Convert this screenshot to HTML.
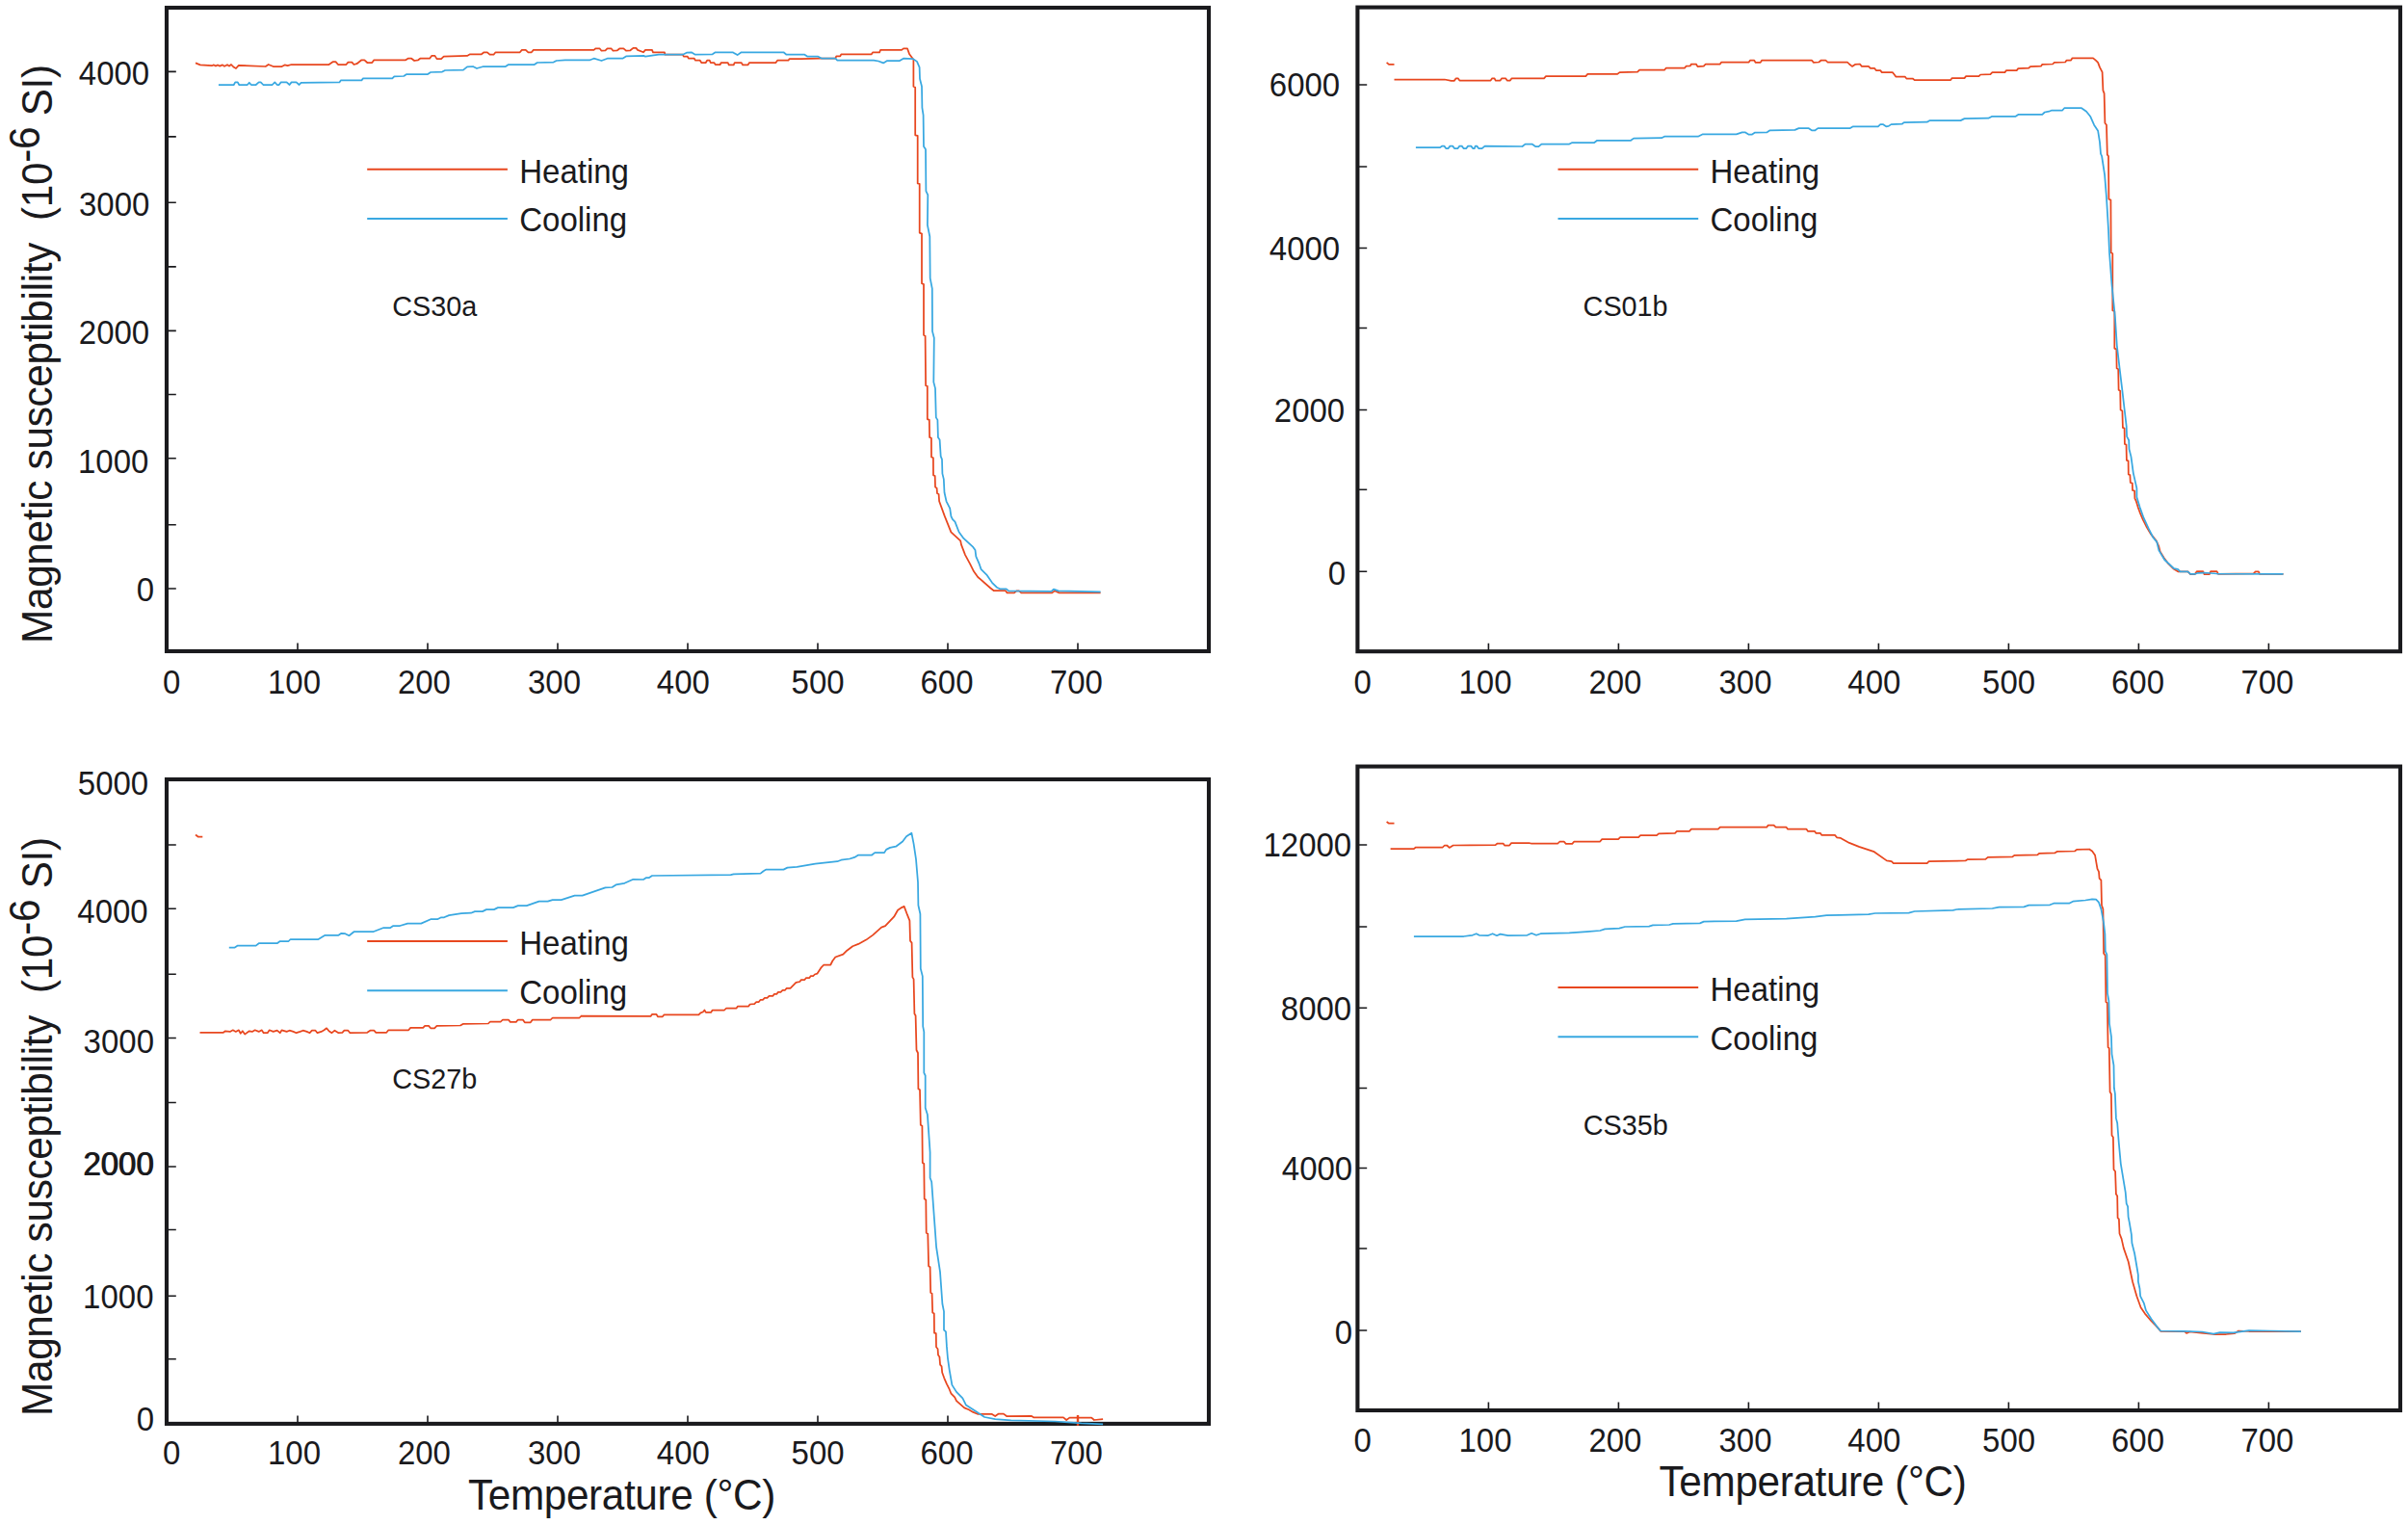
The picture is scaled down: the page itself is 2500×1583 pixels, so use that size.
<!DOCTYPE html>
<html lang="en"><head><meta charset="utf-8"><title>Magnetic susceptibility vs temperature</title>
<style>html,body{margin:0;padding:0;background:#fff;overflow:hidden}svg{display:block}</style></head>
<body>
<svg width="2500" height="1583" viewBox="0 0 2500 1583" font-family='"Liberation Sans", sans-serif' fill="#1a1a1d">
<rect width="2500" height="1583" fill="#ffffff"/>
<g id="TL">
<rect x="173" y="8" width="1082.0" height="668.0" fill="none" stroke="#1a1a1d" stroke-width="4.1"/>
<path d="M173 74.4h9.8 M173 141.9h9.8 M173 210.25h9.8 M173 276.9h9.8 M173 343.4h9.8 M173 409.5h9.8 M173 475.75h9.8 M173 544.75h9.8 M173 611h9.8 M309.00 676v-8.4 M444.00 676v-8.4 M579.00 676v-8.4 M714.00 676v-8.4 M849.00 676v-8.4 M984.00 676v-8.4 M1119.00 676v-8.4" stroke="#1a1a1d" stroke-width="1.6" fill="none"/>
<text transform="translate(155.2 88.2) scale(1 1.05)" font-size="33" text-anchor="end">4000</text>
<text transform="translate(155.4 224.2) scale(1 1.05)" font-size="33" text-anchor="end">3000</text>
<text transform="translate(155.2 356.8) scale(1 1.05)" font-size="33" text-anchor="end">2000</text>
<text transform="translate(154.4 490.6) scale(1 1.05)" font-size="33" text-anchor="end">1000</text>
<text transform="translate(160.2 623.6) scale(1 1.05)" font-size="33" text-anchor="end">0</text>
<text transform="translate(178.2 719.6) scale(1 1.05)" font-size="33" text-anchor="middle">0</text>
<text transform="translate(305.45 719.6) scale(1 1.05)" font-size="33" text-anchor="middle">100</text>
<text transform="translate(440.4 719.6) scale(1 1.05)" font-size="33" text-anchor="middle">200</text>
<text transform="translate(575.5 719.6) scale(1 1.05)" font-size="33" text-anchor="middle">300</text>
<text transform="translate(709.35 719.6) scale(1 1.05)" font-size="33" text-anchor="middle">400</text>
<text transform="translate(849.1 719.6) scale(1 1.05)" font-size="33" text-anchor="middle">500</text>
<text transform="translate(982.95 719.6) scale(1 1.05)" font-size="33" text-anchor="middle">600</text>
<text transform="translate(1117.4 719.6) scale(1 1.05)" font-size="33" text-anchor="middle">700</text>
</g>
<g id="TR">
<rect x="1409.4" y="7.6" width="1082.6" height="668.6" fill="none" stroke="#1a1a1d" stroke-width="4.1"/>
<path d="M1409.4 88h9.8 M1409.4 173h9.8 M1409.4 257.5h9.8 M1409.4 340.5h9.8 M1409.4 425.5h9.8 M1409.4 508.25h9.8 M1409.4 593.25h9.8 M1545.40 676.2v-8.4 M1680.40 676.2v-8.4 M1815.40 676.2v-8.4 M1950.40 676.2v-8.4 M2085.40 676.2v-8.4 M2220.40 676.2v-8.4 M2355.40 676.2v-8.4" stroke="#1a1a1d" stroke-width="1.6" fill="none"/>
<text transform="translate(1391.2 99.6) scale(1 1.05)" font-size="33" text-anchor="end">6000</text>
<text transform="translate(1391.2 269.8) scale(1 1.05)" font-size="33" text-anchor="end">4000</text>
<text transform="translate(1396.2 437.8) scale(1 1.05)" font-size="33" text-anchor="end">2000</text>
<text transform="translate(1397 607.2) scale(1 1.05)" font-size="33" text-anchor="end">0</text>
<text transform="translate(1414.7 719.6) scale(1 1.05)" font-size="33" text-anchor="middle">0</text>
<text transform="translate(1541.95 719.6) scale(1 1.05)" font-size="33" text-anchor="middle">100</text>
<text transform="translate(1676.9 719.6) scale(1 1.05)" font-size="33" text-anchor="middle">200</text>
<text transform="translate(1812.0 719.6) scale(1 1.05)" font-size="33" text-anchor="middle">300</text>
<text transform="translate(1945.85 719.6) scale(1 1.05)" font-size="33" text-anchor="middle">400</text>
<text transform="translate(2085.6 719.6) scale(1 1.05)" font-size="33" text-anchor="middle">500</text>
<text transform="translate(2219.45 719.6) scale(1 1.05)" font-size="33" text-anchor="middle">600</text>
<text transform="translate(2353.9 719.6) scale(1 1.05)" font-size="33" text-anchor="middle">700</text>
</g>
<g id="BL">
<rect x="173" y="809" width="1082.0" height="668.9" fill="none" stroke="#1a1a1d" stroke-width="4.1"/>
<path d="M173 877h9.8 M173 943.25h9.8 M173 1011.25h9.8 M173 1077.5h9.8 M173 1144.5h9.8 M173 1211h9.8 M173 1276.5h9.8 M173 1345.25h9.8 M173 1410.75h9.8 M309.00 1477.9v-8.4 M444.00 1477.9v-8.4 M579.00 1477.9v-8.4 M714.00 1477.9v-8.4 M849.00 1477.9v-8.4 M984.00 1477.9v-8.4 M1119.00 1477.9v-8.4" stroke="#1a1a1d" stroke-width="1.6" fill="none"/>
<text transform="translate(154.2 824.6) scale(1 1.05)" font-size="33" text-anchor="end">5000</text>
<text transform="translate(153.7 958.2) scale(1 1.05)" font-size="33" text-anchor="end">4000</text>
<text transform="translate(160 1093) scale(1 1.05)" font-size="33" text-anchor="end">3000</text>
<text transform="translate(159.3 1220.2) scale(1 1.05)" font-size="33" text-anchor="end">2000</text>
<text transform="translate(160.3 1220.2) scale(1 1.05)" font-size="33" text-anchor="end">2000</text>
<text transform="translate(159.5 1357.8) scale(1 1.05)" font-size="33" text-anchor="end">1000</text>
<text transform="translate(160.2 1485) scale(1 1.05)" font-size="33" text-anchor="end">0</text>
<text transform="translate(178.2 1520.4) scale(1 1.05)" font-size="33" text-anchor="middle">0</text>
<text transform="translate(305.45 1520.4) scale(1 1.05)" font-size="33" text-anchor="middle">100</text>
<text transform="translate(440.4 1520.4) scale(1 1.05)" font-size="33" text-anchor="middle">200</text>
<text transform="translate(575.5 1520.4) scale(1 1.05)" font-size="33" text-anchor="middle">300</text>
<text transform="translate(709.35 1520.4) scale(1 1.05)" font-size="33" text-anchor="middle">400</text>
<text transform="translate(849.1 1520.4) scale(1 1.05)" font-size="33" text-anchor="middle">500</text>
<text transform="translate(982.95 1520.4) scale(1 1.05)" font-size="33" text-anchor="middle">600</text>
<text transform="translate(1117.4 1520.4) scale(1 1.05)" font-size="33" text-anchor="middle">700</text>
</g>
<g id="BR">
<rect x="1409.4" y="795.6" width="1082.6" height="668.4" fill="none" stroke="#1a1a1d" stroke-width="4.1"/>
<path d="M1409.4 877h9.8 M1409.4 962h9.8 M1409.4 1046.25h9.8 M1409.4 1129.5h9.8 M1409.4 1212.5h9.8 M1409.4 1296h9.8 M1409.4 1381h9.8 M1545.40 1464v-8.4 M1680.40 1464v-8.4 M1815.40 1464v-8.4 M1950.40 1464v-8.4 M2085.40 1464v-8.4 M2220.40 1464v-8.4 M2355.40 1464v-8.4" stroke="#1a1a1d" stroke-width="1.6" fill="none"/>
<text transform="translate(1403.2 888.8) scale(1 1.05)" font-size="33" text-anchor="end">12000</text>
<text transform="translate(1403.2 1058.8) scale(1 1.05)" font-size="33" text-anchor="end">8000</text>
<text transform="translate(1404.2 1225.2) scale(1 1.05)" font-size="33" text-anchor="end">4000</text>
<text transform="translate(1404.2 1395.2) scale(1 1.05)" font-size="33" text-anchor="end">0</text>
<text transform="translate(1414.7 1506.8) scale(1 1.05)" font-size="33" text-anchor="middle">0</text>
<text transform="translate(1541.95 1506.8) scale(1 1.05)" font-size="33" text-anchor="middle">100</text>
<text transform="translate(1676.9 1506.8) scale(1 1.05)" font-size="33" text-anchor="middle">200</text>
<text transform="translate(1812.0 1506.8) scale(1 1.05)" font-size="33" text-anchor="middle">300</text>
<text transform="translate(1945.85 1506.8) scale(1 1.05)" font-size="33" text-anchor="middle">400</text>
<text transform="translate(2085.6 1506.8) scale(1 1.05)" font-size="33" text-anchor="middle">500</text>
<text transform="translate(2219.45 1506.8) scale(1 1.05)" font-size="33" text-anchor="middle">600</text>
<text transform="translate(2353.9 1506.8) scale(1 1.05)" font-size="33" text-anchor="middle">700</text>
</g>
<g id="curves">
<polyline points="203.0,65.4 207.9,67.4 219.9,68.2 222.0,67.4 224.0,68.6 226.0,67.4 228.0,68.6 231.0,67.4 233.0,68.8 236.0,67.2 238.0,68.6 240.0,67.0 242.8,69.8 245.0,71.0 247.8,67.8 275.7,69.0 278.7,67.0 283.7,69.0 292.6,69.0 295.6,67.4 298.6,68.2 302.6,67.0 341.5,67.0 345.5,64.2 348.5,64.2 351.0,67.0 359.4,67.0 361.4,64.6 365.4,64.6 367.4,67.0 370.4,66.2 375.4,62.3 378.4,62.3 381.3,65.0 386.3,65.0 388.3,62.3 421.2,62.3 423.6,60.7 427.2,60.7 430.2,63.0 434.2,62.3 436.2,60.7 446.1,60.7 448.1,57.9 451.5,57.9 453.5,61.1 458.1,61.1 460.7,58.7 485.0,57.9 488.0,56.3 499.9,56.3 502.5,54.3 505.9,54.3 508.5,56.7 512.5,56.7 514.5,54.3 539.8,54.3 541.8,51.9 545.8,51.9 548.4,54.3 551.8,54.3 553.8,51.9 616.5,51.9 618.5,50.3 622.5,50.3 624.5,52.7 628.5,52.3 630.5,50.3 634.5,50.3 636.5,52.7 640.9,52.3 643.5,50.3 647.4,50.3 650.0,52.7 654.4,52.3 657.4,49.9 660.4,49.9 662.0,51.9 668.0,54.3 670.0,51.9 677.0,51.9 678.0,54.3 690.0,54.3 690.3,56.7 708.8,56.7 709.8,58.7 713.8,58.7 714.8,60.7 720.8,60.7 721.8,62.7 726.8,62.7 728.2,65.0 732.8,65.0 734.1,62.7 736.7,62.7 737.7,65.0 741.3,65.0 742.7,67.0 747.7,67.0 748.7,65.0 755.7,65.0 756.7,67.4 761.7,67.4 762.7,65.0 769.6,65.0 771.2,67.4 776.6,67.4 778.0,65.0 805.5,65.0 807.1,62.7 818.5,62.7 819.5,61.1 831.4,61.1 851.3,60.7 867.3,60.7 868.3,58.3 872.3,58.3 873.3,56.3 904.8,56.3 906.2,54.3 913.1,54.3 914.1,51.9 936.1,51.9 938.0,50.3 942.0,50.3 944.0,55.9 947.0,59.9 948.4,61.9 948.4,89.8 950.2,90.8 950.2,140.3 952.7,140.9 952.7,190.5 954.7,190.9 954.7,241.6 957.0,242.6 957.0,294.3 959.0,295.1 959.0,347.8 960.6,348.8 961.1,400.2 962.8,400.8 962.8,435.1 964.8,435.9 965.1,453.9 966.9,454.8 967.0,474.4 968.9,475.2 969.0,493.3 970.7,494.1 971.0,505.6 972.6,506.7 973.0,512.1 974.6,513.0 975.1,520.3 980.8,535.9 987.4,552.3 997.2,561.3 998.0,565.4 1002.1,576.1 1007.0,585.1 1011.1,593.3 1015.2,599.0 1028.4,610.5 1031.6,613.0 1043.9,613.0 1045.6,615.4 1053.0,615.4 1055.4,613.3 1057.9,613.3 1060.3,615.4 1092.3,615.4 1094.8,613.3 1099.7,615.4 1142.6,615.4" fill="none" stroke="#e8471f" stroke-width="1.75" stroke-linejoin="round" stroke-linecap="butt"/>
<polyline points="226.9,88.0 242.8,88.0 244.2,85.4 246.8,85.4 248.2,88.0 256.8,88.0 258.8,85.8 260.8,88.0 265.7,88.0 268.7,85.4 270.7,85.4 273.3,88.0 282.7,88.0 285.3,85.4 287.7,88.0 289.7,88.0 291.7,85.4 297.6,85.4 300.6,88.0 302.6,85.4 307.6,85.4 310.6,88.0 312.6,85.8 352.4,85.4 353.8,83.4 375.4,83.4 377.0,81.4 407.3,81.4 409.3,79.4 419.2,79.0 422.2,77.0 444.1,77.0 447.1,75.0 459.1,74.6 462.1,73.0 481.0,72.6 485.0,69.4 491.0,69.0 495.0,71.0 501.9,69.0 524.9,69.0 527.9,67.0 554.8,67.0 557.8,65.0 574.7,64.6 577.7,63.0 586.7,62.3 612.6,62.3 616.6,60.7 624.5,63.0 630.5,60.7 646.4,60.7 650.4,58.3 668.4,57.9 670.0,58.7 683.9,56.7 708.8,56.7 712.8,54.7 717.8,54.3 721.8,56.7 739.7,56.3 742.7,54.3 760.7,54.3 765.6,57.1 769.6,54.3 813.5,54.3 816.5,56.7 835.4,56.7 838.4,58.7 849.4,58.7 853.3,60.7 867.3,60.7 869.3,62.7 907.2,62.7 912.1,63.5 917.1,65.4 921.1,63.1 934.1,63.1 938.0,60.7 948.0,61.1 952.0,63.9 954.6,69.8 955.0,81.8 957.0,89.8 957.4,111.8 958.6,119.7 959.0,152.1 961.0,155.1 961.4,198.3 963.3,202.3 962.9,233.7 965.3,245.5 965.7,288.8 967.8,299.6 968.0,343.9 969.8,350.7 969.3,396.6 971.0,403.1 971.8,433.4 973.4,435.9 973.9,453.9 975.6,456.4 976.7,473.6 978.0,476.9 978.4,491.6 979.8,497.4 980.5,511.3 982.5,520.3 986.2,527.7 987.4,535.9 989.0,539.2 991.5,541.6 995.6,552.3 1000.5,558.9 1010.3,567.9 1012.5,571.1 1013.3,577.7 1016.9,585.9 1018.5,590.8 1024.3,596.6 1030.0,604.8 1034.9,609.7 1038.2,611.3 1044.8,611.3 1047.2,613.3 1091.5,613.8 1093.9,611.6 1098.9,613.3 1142.6,614.3" fill="none" stroke="#39a8e1" stroke-width="1.75" stroke-linejoin="round" stroke-linecap="butt"/>
<polyline points="1439.6,64.9 1442.0,66.9 1447.5,66.9" fill="none" stroke="#e8471f" stroke-width="1.75" stroke-linejoin="round" stroke-linecap="butt"/>
<polyline points="1447.5,82.5 1499.8,82.5 1506.7,83.9 1509.7,83.9 1511.7,81.3 1513.7,81.3 1515.3,83.5 1547.6,83.5 1549.2,81.3 1551.6,81.3 1552.6,83.5 1557.6,83.5 1559.2,81.3 1563.1,81.3 1564.7,83.5 1567.9,83.5 1569.5,81.3 1603.0,81.3 1605.0,79.1 1646.3,79.1 1648.3,76.9 1679.2,76.9 1681.5,75.1 1700.1,74.7 1702.1,72.7 1728.0,72.7 1729.6,70.7 1748.9,70.7 1750.5,68.7 1754.9,68.3 1755.9,66.5 1760.9,66.5 1762.5,69.1 1768.8,68.7 1770.8,66.5 1785.8,66.5 1787.2,64.5 1815.7,64.5 1817.1,62.5 1821.1,62.5 1822.7,64.9 1827.7,64.9 1829.2,62.5 1880.9,62.5 1882.9,64.9 1888.4,64.5 1890.8,62.5 1895.4,62.5 1897.4,64.5 1917.9,64.5 1919.9,66.5 1922.9,68.9 1925.9,66.9 1930.9,66.5 1932.9,68.9 1939.9,68.9 1941.9,70.9 1946.2,70.9 1947.8,73.1 1952.2,73.1 1953.8,75.1 1964.8,75.1 1966.8,77.5 1968.2,79.5 1977.7,79.5 1979.3,81.5 1985.7,81.5 1987.7,83.1 2025.2,83.1 2026.6,81.1 2039.5,81.1 2041.1,79.1 2054.5,79.1 2056.1,77.5 2066.4,77.1 2068.4,75.1 2081.4,75.1 2083.0,73.1 2093.7,73.1 2095.3,71.1 2106.3,70.7 2107.9,69.1 2118.9,68.7 2120.3,66.9 2131.2,66.5 2132.8,64.9 2144.2,64.5 2145.6,62.5 2150.1,62.5 2151.5,60.3 2173.1,60.3 2176.1,62.9 2178.1,64.9 2180.0,69.9 2182.6,74.9 2183.4,93.8 2184.6,96.8 2185.4,127.7 2187.0,129.7 2187.8,160.6 2189.0,162.0 2189.4,206.8 2191.4,207.6 2191.7,262.3 2193.3,263.2 2193.3,322.2 2195.3,323.2 2195.3,361.6 2197.3,362.6 2197.6,382.2 2199.2,383.2 2199.6,404.8 2201.2,405.8 2201.6,425.5 2203.4,426.5 2203.9,443.9 2205.6,444.6 2205.9,461.0 2207.5,461.6 2207.9,477.8 2209.6,478.3 2209.8,492.5 2211.4,493.1 2211.8,501.0 2213.8,501.6 2214.0,508.9 2216.1,509.5 2216.4,517.4 2217.7,520.0 2219.7,526.6 2221.6,531.8 2224.9,539.7 2228.2,546.2 2232.8,554.1 2238.7,561.3 2241.3,567.2 2242.6,572.5 2246.6,579.0 2250.5,584.3 2257.0,590.8 2261.6,593.4 2271.5,593.4 2274.1,596.1 2278.7,596.1 2280.7,593.2 2287.2,593.2 2288.5,596.1 2293.8,596.1 2295.1,593.2 2301.6,593.2 2303.0,595.8 2339.7,595.4 2341.6,593.4 2344.9,593.4 2346.0,595.8 2370.5,595.8" fill="none" stroke="#e8471f" stroke-width="1.75" stroke-linejoin="round" stroke-linecap="butt"/>
<polyline points="1469.9,153.2 1494.8,153.2 1497.4,151.6 1499.4,151.6 1501.4,154.2 1503.4,154.2 1505.4,151.6 1508.2,151.6 1510.2,154.2 1513.3,154.2 1515.3,151.6 1517.7,151.6 1519.7,154.2 1522.1,154.2 1524.1,151.6 1527.3,151.6 1529.3,154.2 1530.7,154.2 1531.7,151.6 1533.3,151.6 1535.3,154.2 1538.6,154.2 1541.6,151.6 1580.5,152.0 1583.5,149.6 1590.5,149.6 1594.4,152.2 1597.4,152.2 1600.4,149.6 1629.3,149.6 1632.3,148.0 1655.2,148.0 1658.2,145.8 1693.1,145.8 1696.1,143.6 1725.0,143.2 1728.0,141.7 1762.9,141.7 1767.9,139.3 1802.7,139.3 1808.7,137.3 1811.7,137.3 1815.7,139.7 1818.7,139.7 1821.7,137.7 1834.6,137.3 1837.6,135.3 1863.5,134.9 1867.5,133.1 1877.5,133.1 1880.9,135.3 1884.5,135.3 1887.4,133.1 1920.9,133.1 1923.9,131.3 1949.8,131.3 1952.2,129.1 1954.8,129.1 1958.2,131.3 1960.8,130.9 1963.4,129.1 1974.7,128.7 1976.7,127.1 2000.7,126.7 2003.6,125.1 2035.5,125.1 2039.5,123.1 2064.4,122.7 2067.8,120.9 2092.3,120.9 2095.3,118.9 2120.3,118.9 2122.8,116.5 2127.2,115.7 2130.2,114.5 2141.2,114.5 2143.2,112.2 2161.1,112.2 2166.1,115.7 2170.1,120.7 2174.1,129.7 2178.1,135.7 2180.0,147.6 2181.0,159.6 2182.1,162.0 2185.1,181.6 2187.0,205.2 2189.0,238.7 2190.0,262.3 2192.5,295.7 2195.9,329.1 2197.8,358.6 2200.8,384.2 2203.2,403.9 2205.7,425.5 2207.7,442.6 2208.1,453.1 2210.2,457.0 2210.5,466.2 2212.5,474.1 2214.8,491.1 2218.4,506.9 2218.4,516.1 2221.6,526.6 2225.6,537.7 2230.8,548.9 2235.4,558.0 2239.3,562.6 2241.3,571.1 2247.2,581.0 2257.0,590.2 2261.0,590.8 2263.6,593.4 2271.5,593.4 2274.1,595.8 2279.3,595.8 2282.0,594.8 2288.5,594.5 2301.6,595.5 2370.5,595.8" fill="none" stroke="#39a8e1" stroke-width="1.75" stroke-linejoin="round" stroke-linecap="butt"/>
<polyline points="203.0,866.5 205.9,868.7 210.3,868.7" fill="none" stroke="#e8471f" stroke-width="1.75" stroke-linejoin="round" stroke-linecap="butt"/>
<polyline points="207.5,1071.8 231.9,1071.8 233.9,1070.3 238.8,1070.9 241.8,1069.3 244.8,1070.9 247.8,1069.3 249.8,1072.8 251.8,1070.3 254.2,1073.6 258.8,1070.3 261.8,1070.9 264.7,1069.3 268.7,1070.9 271.7,1069.3 273.7,1072.2 277.7,1072.2 279.7,1069.3 283.7,1070.9 287.7,1069.7 290.7,1072.2 292.6,1069.3 297.6,1070.9 300.6,1069.7 304.6,1070.9 307.6,1072.2 311.6,1070.9 314.6,1069.7 318.6,1070.9 321.6,1072.2 323.9,1069.7 327.5,1069.7 329.5,1072.2 333.5,1070.9 336.5,1069.3 339.1,1067.3 341.5,1070.3 344.5,1072.2 347.5,1069.7 351.5,1072.2 355.4,1071.8 357.4,1069.7 361.4,1069.7 363.4,1072.2 381.3,1071.8 384.3,1069.7 388.3,1069.7 390.3,1071.8 401.3,1071.8 403.3,1069.3 424.2,1069.3 426.2,1066.9 439.2,1066.9 441.1,1064.9 445.1,1064.9 447.1,1067.3 451.1,1067.3 453.5,1064.9 478.0,1064.5 480.6,1062.9 506.9,1062.5 508.9,1060.5 519.9,1060.5 521.9,1058.5 527.9,1058.5 529.8,1060.9 535.8,1060.9 537.8,1058.5 542.8,1058.5 544.8,1061.3 550.8,1061.3 552.8,1058.5 571.7,1058.5 573.7,1056.5 601.6,1056.5 603.6,1054.5 670.0,1054.9 675.5,1054.9 676.9,1052.9 681.5,1052.9 682.9,1055.3 687.9,1055.3 689.5,1053.3 725.4,1053.3 727.4,1051.3 729.8,1050.5 731.4,1048.5 732.8,1050.9 738.1,1050.9 739.7,1048.5 752.1,1048.5 754.1,1046.5 764.6,1046.5 766.0,1044.5 777.2,1044.5 778.6,1042.5 783.2,1042.1 785.2,1040.2 787.6,1040.2 789.6,1037.8 791.9,1037.8 793.9,1035.8 796.5,1035.8 798.5,1033.8 802.5,1033.8 803.9,1031.8 806.5,1031.8 807.9,1029.8 810.5,1029.8 812.5,1027.8 815.1,1027.8 816.7,1025.8 820.5,1025.8 826.4,1019.8 830.4,1019.0 831.8,1017.0 835.4,1017.0 837.0,1015.0 840.4,1015.0 841.8,1013.0 844.4,1013.0 845.8,1011.5 848.4,1010.7 852.3,1004.7 855.3,1001.5 862.3,1001.5 864.3,997.5 867.3,993.5 875.3,990.7 879.3,986.7 885.2,982.3 891.2,979.9 899.2,975.6 906.2,970.6 915.1,962.6 919.1,961.2 928.1,951.7 932.1,944.7 936.1,942.1 938.7,940.9 942.0,949.7 944.4,955.6 945.0,976.6 946.6,978.6 947.4,1014.4 948.6,1016.4 949.4,1052.3 950.6,1054.3 951.5,1090.0 953.0,1093.0 953.4,1130.3 955.0,1131.3 955.8,1167.7 957.4,1168.7 957.8,1207.0 959.3,1208.0 959.7,1244.4 961.3,1245.4 961.7,1279.8 963.3,1280.8 964.1,1314.2 965.6,1315.2 966.2,1341.7 967.6,1342.7 968.2,1362.4 969.8,1363.4 970.0,1383.7 971.8,1384.2 972.0,1398.3 973.6,1400.2 974.0,1406.5 975.4,1408.4 976.1,1416.6 977.6,1418.4 978.2,1424.8 980.2,1430.3 982.9,1436.7 985.7,1442.2 987.5,1446.7 991.2,1450.4 993.0,1454.1 1001.2,1461.4 1005.8,1463.2 1010.4,1465.9 1014.9,1467.8 1029.5,1467.8 1033.2,1470.0 1036.8,1467.6 1041.9,1467.6 1045.1,1470.0 1070.7,1469.8 1073.4,1471.4 1104.0,1471.4 1107.2,1474.0 1110.4,1471.6 1133.2,1471.6 1136.0,1474.0 1145.1,1473.2" fill="none" stroke="#e8471f" stroke-width="1.75" stroke-linejoin="round" stroke-linecap="butt"/>
<polyline points="1119.0,1469.0 1119.0,1479.8" fill="none" stroke="#e8471f" stroke-width="2.4" stroke-linejoin="round" stroke-linecap="butt"/>
<polyline points="237.8,983.5 243.8,983.5 246.8,981.6 265.7,981.6 268.7,979.2 287.7,979.2 290.7,977.0 299.6,977.0 301.6,975.0 330.5,975.0 337.5,970.8 351.5,970.8 354.4,968.8 358.4,969.2 362.4,971.2 367.4,967.2 387.3,967.2 398.3,963.0 405.3,963.0 408.3,961.0 415.2,961.0 423.2,958.6 437.2,958.6 447.1,954.2 454.1,954.2 458.1,952.3 461.1,952.3 466.1,950.1 479.0,948.1 489.0,947.7 493.0,946.1 500.9,946.1 504.9,944.1 512.9,944.1 516.9,942.1 532.8,942.1 537.8,940.1 546.8,940.1 559.7,935.7 568.7,935.7 573.7,934.1 582.7,934.1 596.6,929.7 604.6,929.7 628.5,921.4 635.5,921.0 639.5,918.4 648.4,916.8 657.4,912.8 668.0,913.0 671.0,911.0 674.0,911.0 677.0,909.0 758.7,908.2 761.7,907.4 789.6,906.6 792.6,904.2 795.5,902.6 813.5,902.6 817.5,900.6 827.4,899.8 846.4,896.6 869.3,894.2 873.3,892.7 882.2,891.5 887.2,889.9 891.2,887.5 905.2,887.5 908.2,885.1 918.1,885.1 920.1,881.9 924.1,879.9 930.1,878.7 937.1,873.5 941.0,868.3 946.4,864.7 948.6,875.9 951.0,891.9 953.0,915.8 953.4,939.7 955.4,948.7 955.8,1005.5 957.8,1013.4 958.2,1065.3 959.3,1071.2 959.3,1113.6 960.7,1116.5 960.7,1150.0 962.9,1156.9 965.6,1196.2 965.6,1222.7 967.2,1226.7 970.1,1267.0 972.1,1294.5 976.0,1320.1 978.4,1353.5 980.0,1361.4 980.0,1380.5 982.0,1382.3 982.9,1397.4 983.9,1409.3 985.7,1422.1 988.4,1437.6 993.0,1444.9 999.4,1451.3 1003.0,1458.6 1013.1,1465.0 1022.2,1471.0 1033.2,1473.2 1049.6,1474.3 1095.3,1475.5 1122.7,1477.4 1145.1,1478.3" fill="none" stroke="#39a8e1" stroke-width="1.75" stroke-linejoin="round" stroke-linecap="butt"/>
<polyline points="1439.6,853.0 1442.0,854.7 1447.5,854.7" fill="none" stroke="#e8471f" stroke-width="1.75" stroke-linejoin="round" stroke-linecap="butt"/>
<polyline points="1443.6,881.1 1467.9,881.1 1469.9,879.5 1497.8,879.5 1499.8,877.5 1502.2,877.5 1504.7,879.9 1508.7,877.5 1552.6,877.1 1554.6,875.5 1560.6,875.5 1562.0,877.5 1567.1,877.5 1569.1,875.1 1587.5,875.1 1589.5,875.5 1617.4,875.5 1619.4,873.5 1623.7,873.5 1625.7,875.9 1632.3,875.9 1634.3,873.5 1661.2,873.5 1663.2,871.1 1680.1,871.1 1682.1,869.1 1701.1,869.1 1703.1,867.1 1720.0,867.1 1722.0,865.3 1739.0,864.9 1740.9,862.9 1753.9,862.9 1755.9,860.7 1783.8,860.7 1785.8,858.7 1834.2,858.7 1835.6,856.7 1841.6,856.7 1843.6,858.7 1854.6,858.7 1856.1,860.7 1875.5,860.7 1877.1,862.9 1884.1,862.9 1885.5,864.9 1890.0,864.9 1891.4,866.9 1905.0,866.9 1907.0,869.3 1911.0,869.9 1919.9,874.9 1929.9,878.9 1945.8,884.2 1958.8,893.4 1963.8,894.2 1965.8,896.2 2000.7,896.2 2002.6,894.2 2040.5,893.4 2042.5,892.2 2061.4,891.8 2063.8,889.8 2089.4,889.4 2091.3,887.8 2115.3,887.4 2117.3,885.8 2133.2,885.4 2135.6,883.9 2154.1,883.5 2156.1,881.9 2169.1,881.5 2172.1,883.5 2175.1,887.8 2177.5,901.8 2179.0,904.8 2179.6,911.8 2181.4,913.7 2182.0,939.7 2183.4,943.6 2184.1,989.8 2185.7,991.8 2186.4,1040.0 2187.8,1041.0 2188.6,1087.2 2189.8,1088.2 2190.6,1133.4 2191.9,1135.4 2192.5,1178.6 2193.9,1180.6 2194.5,1214.0 2196.1,1216.0 2196.9,1239.6 2198.2,1241.6 2198.6,1264.3 2199.9,1265.4 2200.5,1280.5 2202.6,1285.9 2204.8,1295.6 2209.7,1309.7 2214.0,1330.2 2218.3,1345.3 2222.6,1357.2 2226.9,1363.6 2233.4,1371.2 2238.8,1376.6 2243.1,1381.8 2268.0,1382.0 2270.1,1383.9 2273.4,1382.5 2287.4,1383.9 2298.2,1385.0 2311.2,1385.0 2319.8,1384.2 2324.1,1381.5 2334.9,1382.0 2388.9,1382.0" fill="none" stroke="#e8471f" stroke-width="1.75" stroke-linejoin="round" stroke-linecap="butt"/>
<polyline points="1467.9,972.0 1519.7,972.0 1528.7,970.8 1532.7,969.2 1535.7,970.8 1544.6,971.2 1549.6,969.2 1554.0,971.2 1557.6,969.6 1565.5,971.2 1585.5,970.8 1590.1,968.8 1595.0,970.8 1599.4,969.2 1629.3,968.4 1647.3,967.2 1661.2,966.0 1666.2,964.4 1681.1,963.6 1687.1,962.0 1712.0,961.6 1716.0,960.4 1733.0,960.0 1737.0,958.8 1764.9,958.4 1768.9,956.6 1802.7,956.2 1811.7,954.4 1854.6,953.6 1884.5,951.6 1896.4,950.2 1910.0,949.8 1939.9,949.2 1946.8,948.0 1981.7,947.6 1987.7,946.0 2027.6,944.8 2031.6,944.0 2068.4,943.0 2075.4,941.7 2101.3,941.3 2106.3,939.7 2128.2,939.3 2132.2,937.7 2148.2,937.7 2152.1,935.7 2165.1,934.5 2172.1,933.3 2176.1,933.7 2179.0,936.7 2181.4,943.6 2184.0,957.6 2185.4,969.6 2185.8,987.5 2187.4,990.8 2188.0,1031.1 2189.4,1039.0 2190.0,1062.6 2192.0,1076.4 2192.5,1094.1 2194.5,1105.9 2194.9,1129.5 2195.9,1135.4 2196.9,1160.9 2198.2,1165.8 2199.8,1186.5 2201.8,1208.1 2206.7,1237.6 2207.7,1249.4 2209.1,1252.4 2209.6,1263.2 2210.7,1268.6 2212.9,1281.6 2213.4,1290.2 2216.1,1301.0 2218.3,1314.0 2219.9,1323.7 2219.9,1330.2 2221.5,1337.7 2222.1,1345.3 2225.9,1352.9 2228.0,1360.4 2233.4,1369.0 2239.9,1377.7 2243.1,1381.5 2268.0,1381.8 2286.3,1382.5 2298.2,1384.7 2304.7,1383.1 2318.7,1383.3 2334.9,1381.1 2356.5,1381.5 2388.9,1382.2" fill="none" stroke="#39a8e1" stroke-width="1.75" stroke-linejoin="round" stroke-linecap="butt"/>
</g>
<path d="M381.2 175.8H526.9" stroke="#e8471f" stroke-width="2"/>
<path d="M381.2 227H526.9" stroke="#39a8e1" stroke-width="2"/>
<text transform="translate(539.2 189.9) scale(1 1.05)" font-size="33">Heating</text>
<text transform="translate(539.2 240.4) scale(1 1.05)" font-size="33">Cooling</text>
<path d="M1617.5 175.8H1763.2" stroke="#e8471f" stroke-width="2"/>
<path d="M1617.5 227H1763.2" stroke="#39a8e1" stroke-width="2"/>
<text transform="translate(1775.5 189.9) scale(1 1.05)" font-size="33">Heating</text>
<text transform="translate(1775.5 240.4) scale(1 1.05)" font-size="33">Cooling</text>
<path d="M381.2 977H526.9" stroke="#e8471f" stroke-width="2"/>
<path d="M381.2 1028.3H526.9" stroke="#39a8e1" stroke-width="2"/>
<text transform="translate(539.2 991.1) scale(1 1.05)" font-size="33">Heating</text>
<text transform="translate(539.2 1041.7) scale(1 1.05)" font-size="33">Cooling</text>
<path d="M1617.5 1025H1763.2" stroke="#e8471f" stroke-width="2"/>
<path d="M1617.5 1076.3H1763.2" stroke="#39a8e1" stroke-width="2"/>
<text transform="translate(1775.5 1039.1) scale(1 1.05)" font-size="33">Heating</text>
<text transform="translate(1775.5 1089.7) scale(1 1.05)" font-size="33">Cooling</text>
<text transform="translate(407.2 328.4) scale(1 1.05)" font-size="28.8">CS30a</text>
<text transform="translate(1643.6 328.4) scale(1 1.05)" font-size="28.8">CS01b</text>
<text transform="translate(407.2 1130.4) scale(1 1.05)" font-size="28.8">CS27b</text>
<text transform="translate(1643.8 1178.4) scale(1 1.05)" font-size="28.8">CS35b</text>
<text transform="translate(486 1566.6) scale(1 1.05)" font-size="42.3" textLength="319.3" lengthAdjust="spacing">Temperature (°C)</text>
<text transform="translate(1722.6 1553) scale(1 1.05)" font-size="42.3" textLength="319.3" lengthAdjust="spacing">Temperature (°C)</text>
<text transform="translate(53.8 668) rotate(-90) scale(1 1.05)" font-size="42.3" textLength="601.1" lengthAdjust="spacing">Magnetic susceptibility&#160;&#160;(10<tspan dy="-12">-6</tspan><tspan dy="12"> SI)</tspan></text>
<text transform="translate(53.8 1470) rotate(-90) scale(1 1.05)" font-size="42.3" textLength="601.1" lengthAdjust="spacing">Magnetic susceptibility&#160;&#160;(10<tspan dy="-12">-6</tspan><tspan dy="12"> SI)</tspan></text>
</svg>
</body></html>
